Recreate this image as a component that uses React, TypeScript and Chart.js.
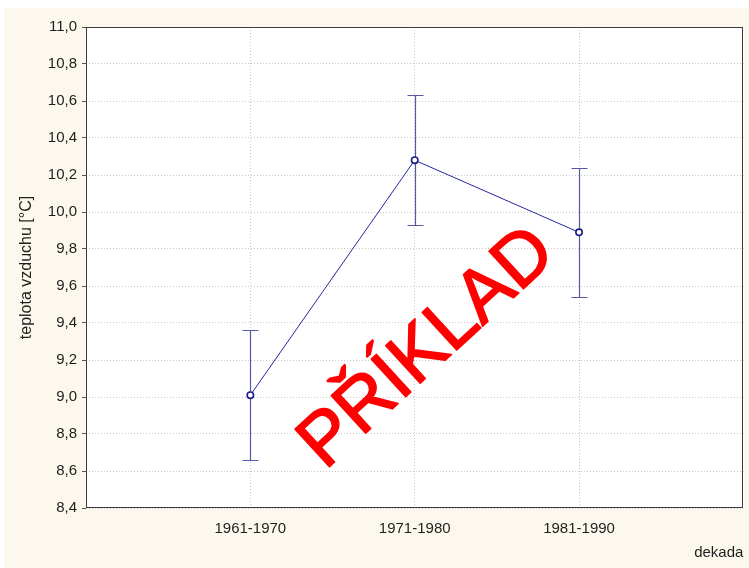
import React, { useEffect, useRef } from "react";
import { Chart, registerables } from "chart.js";

Chart.register(...registerables);

const categories = ["1961-1970", "1971-1980", "1981-1990"];
const means = [9.01, 10.28, 9.89];
const upper = [9.36, 10.63, 10.24];
const lower = [8.66, 9.93, 9.54];
const yTickValues = [8.4, 8.6, 8.8, 9.0, 9.2, 9.4, 9.6, 9.8, 10.0, 10.2, 10.4, 10.6, 10.8, 11.0];
const yTitle = "teplota vzduchu [°C]";
const xTitle = "dekada";
const watermark = "PŘÍKLAD";

const FONT = "'Liberation Sans', Arial, sans-serif";
const CREAM = "#fcf8ee";

const bgPlugin = {
  id: "bgPlugin",
  beforeDraw(chart: any) {
    const { ctx, chartArea, width, height } = chart;
    ctx.save();
    ctx.fillStyle = CREAM;
    ctx.fillRect(0, 0, width, height);
    ctx.fillStyle = "#ffffff";
    ctx.fillRect(chartArea.left, chartArea.top, chartArea.right - chartArea.left, chartArea.bottom - chartArea.top);
    ctx.restore();
  },
};

const errorBarPlugin = {
  id: "errorBarPlugin",
  beforeDatasetsDraw(chart: any) {
    const { ctx, scales } = chart;
    const xs = scales.x;
    const ys = scales.y;
    ctx.save();
    ctx.strokeStyle = "#5858a8";
    ctx.lineWidth = 1.2;
    for (let i = 0; i < means.length; i++) {
      const x = Math.round(xs.getPixelForValue(i + 1)) + 0.5;
      const yt = Math.round(ys.getPixelForValue(upper[i])) + 0.5;
      const yb = Math.round(ys.getPixelForValue(lower[i])) + 0.5;
      const cap = 8;
      ctx.beginPath();
      ctx.moveTo(x, yt);
      ctx.lineTo(x, yb);
      ctx.moveTo(x - cap, yt);
      ctx.lineTo(x + cap, yt);
      ctx.moveTo(x - cap, yb);
      ctx.lineTo(x + cap, yb);
      ctx.stroke();
    }
    ctx.restore();
  },
  afterDatasetsDraw(chart: any) {
    const { ctx, chartArea } = chart;
    const w = chartArea.right - chartArea.left;
    const h = chartArea.bottom - chartArea.top;
    ctx.save();
    ctx.translate(chartArea.left + 0.541 * w, chartArea.top + 0.7 * h);
    ctx.rotate((-42.5 * Math.PI) / 180);
    ctx.fillStyle = "#ff0000";
    ctx.strokeStyle = "#ff0000";
    ctx.lineWidth = 1.6;
    ctx.lineJoin = "round";
    ctx.font = "74px " + FONT;
    ctx.textAlign = "center";
    ctx.textBaseline = "alphabetic";
    ctx.fillText(watermark, 0, 0);
    ctx.strokeText(watermark, 0, 0);
    ctx.restore();
  },
  afterDraw(chart: any) {
    const { ctx, chartArea } = chart;
    ctx.save();
    ctx.strokeStyle = "#3c3c3c";
    ctx.lineWidth = 1;
    const l = Math.round(chartArea.left) + 0.5;
    const t = Math.round(chartArea.top) + 0.5;
    const r = Math.round(chartArea.right) - 0.5;
    const b = Math.round(chartArea.bottom) - 0.5;
    ctx.strokeRect(l, t, r - l, b - t);
    ctx.restore();
  },
};

export default function App() {
  const ref = useRef<HTMLCanvasElement | null>(null);

  useEffect(() => {
    if (!ref.current) return;
    const chart = new Chart(ref.current, {
      type: "scatter",
      data: {
        datasets: [
          {
            data: means.map((v, i) => ({ x: i + 1, y: v })),
            showLine: true,
            borderColor: "#28289a",
            borderWidth: 1,
            pointRadius: 3.2,
            pointBorderWidth: 1.6,
            pointBorderColor: "#1c1c8c",
            pointBackgroundColor: "#ffffff",
          },
        ],
      },
      options: {
        animation: false,
        responsive: false,
        layout: { padding: { top: 19, right: 3, bottom: 0, left: 0 } },
        plugins: {
          legend: { display: false },
          tooltip: { enabled: false },
        },
        scales: {
          x: {
            type: "linear",
            min: 0,
            max: 4,
            afterBuildTicks: (axis: any) => {
              axis.ticks = categories.map((_, i) => ({ value: i + 1 }));
            },
            afterFit: (axis: any) => {
              axis.height = 60;
            },
            grid: {
              color: "#c8c8c8",
              drawTicks: false,
            },
            border: { display: false, dash: [1, 2] },
            ticks: {
              padding: 12,
              color: "#1e1e1e",
              font: { family: FONT, size: 15 },
              maxRotation: 0,
              callback: (v: any) => categories[Number(v) - 1] ?? "",
            },
            title: {
              display: true,
              text: xTitle,
              align: "end",
              color: "#1e1e1e",
              font: { family: FONT, size: 15 },
              padding: { top: 0, bottom: 6 },
            },
          },
          y: {
            min: 8.4,
            max: 11.0,
            afterBuildTicks: (axis: any) => {
              axis.ticks = yTickValues.map((v) => ({ value: v }));
            },
            afterFit: (axis: any) => {
              axis.width = 82;
            },
            grid: {
              color: "#c8c8c8",
              drawTicks: true,
              tickLength: 4,
              tickColor: "#555555",
              tickBorderDash: [],
            },
            border: { display: false, dash: [1, 2] },
            ticks: {
              padding: 5,
              color: "#1e1e1e",
              font: { family: FONT, size: 15 },
              callback: (v: any) => Number(v).toFixed(1).replace(".", ","),
            },
            title: {
              display: true,
              text: yTitle,
              color: "#1e1e1e",
              font: { family: FONT, size: 16 },
              padding: { top: 13, bottom: 0 },
            },
          },
        },
      },
      plugins: [bgPlugin, errorBarPlugin],
    } as any);
    return () => chart.destroy();
  }, []);

  return (
    <div style={{ position: "absolute", left: 4, top: 8, width: 745, height: 560 }}>
      <canvas ref={ref} width={745} height={560} style={{ display: "block" }} />
    </div>
  );
}
